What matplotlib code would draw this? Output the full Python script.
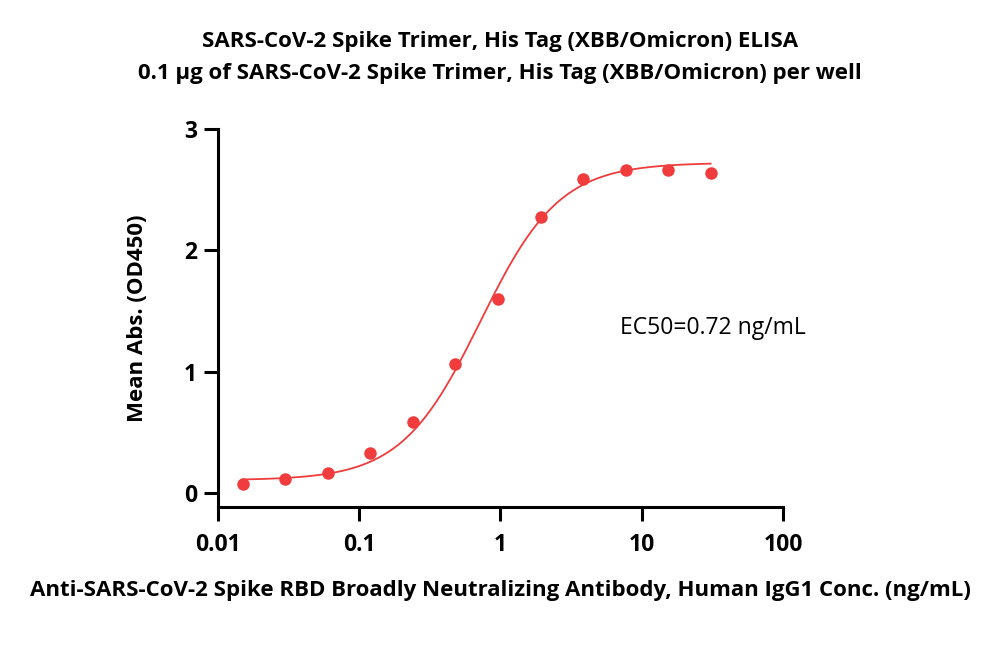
import numpy as np
import matplotlib
matplotlib.use("Agg")
import matplotlib.pyplot as plt
from matplotlib.ticker import FixedLocator, NullLocator

plt.rcParams['font.family'] = ['Open Sans', 'DejaVu Sans']

# datos
conc = [0.015, 0.03, 0.06, 0.12, 0.24, 0.48, 0.96, 1.92, 3.84, 7.68, 15.36, 30.72]
od450 = [0.075, 0.112, 0.167, 0.332, 0.583, 1.061, 1.597, 2.27, 2.586, 2.663, 2.657, 2.636]

# parametros del ajuste 4PL
bottom = 0.105
top = 2.72
ec50 = 0.72
hill = 1.55

xticks = [0.01, 0.1, 1, 10, 100]
xticklabels = ["0.01", "0.1", "1", "10", "100"]
yticks = [0, 1, 2, 3]

red = "#F03C3C"

fig = plt.figure(figsize=(10, 6.59), dpi=100)
ax = fig.add_axes([0.218, 0.2307, 0.565, 0.574])

xs = np.logspace(np.log10(conc[0]), np.log10(conc[-1]), 300)
fit = bottom + (top - bottom) / (1 + (ec50 / xs) ** hill)
ax.plot(xs, fit, color=red, linewidth=1.3)
ax.plot(conc, od450, "o", color=red, markersize=9, markeredgewidth=0)

ax.set_xscale("log")
ax.set_xlim(0.01, 100)
ax.set_ylim(-0.115, 3)
ax.xaxis.set_major_locator(FixedLocator(xticks))
ax.xaxis.set_minor_locator(NullLocator())
ax.set_xticklabels(xticklabels)
ax.set_yticks(yticks)

for s in ["top", "right"]:
    ax.spines[s].set_visible(False)
for s in ["left", "bottom"]:
    ax.spines[s].set_linewidth(2.2)
ax.tick_params(axis="both", which="major", direction="out", length=10, width=2.2,
               labelsize=16.5)
ax.tick_params(axis="x", pad=9)
ax.tick_params(axis="y", pad=5)
for lab in ax.get_xticklabels() + ax.get_yticklabels():
    lab.set_fontweight("bold")

ax.set_xlabel("Anti-SARS-CoV-2 Spike RBD Broadly Neutralizing Antibody, Human IgG1 Conc. (ng/mL)",
              fontsize=16, fontweight="bold", labelpad=16)
ax.set_ylabel("Mean Abs. (OD450)", fontsize=16, fontweight="bold", labelpad=26)

ax.text(620 / 1000, (659 - 328) / 659, "EC50=0.72 ng/mL", transform=fig.transFigure,
        fontsize=16.5, va="center", ha="left")

fig.text(0.5, (659 - 42) / 659, "SARS-CoV-2 Spike Trimer, His Tag (XBB/Omicron) ELISA",
         ha="center", va="center", fontsize=16, fontweight="bold")
fig.text(0.5, (659 - 74) / 659, "0.1 µg of SARS-CoV-2 Spike Trimer, His Tag (XBB/Omicron) per well",
         ha="center", va="center", fontsize=16, fontweight="bold")

fig.savefig("out.png", dpi=100)
